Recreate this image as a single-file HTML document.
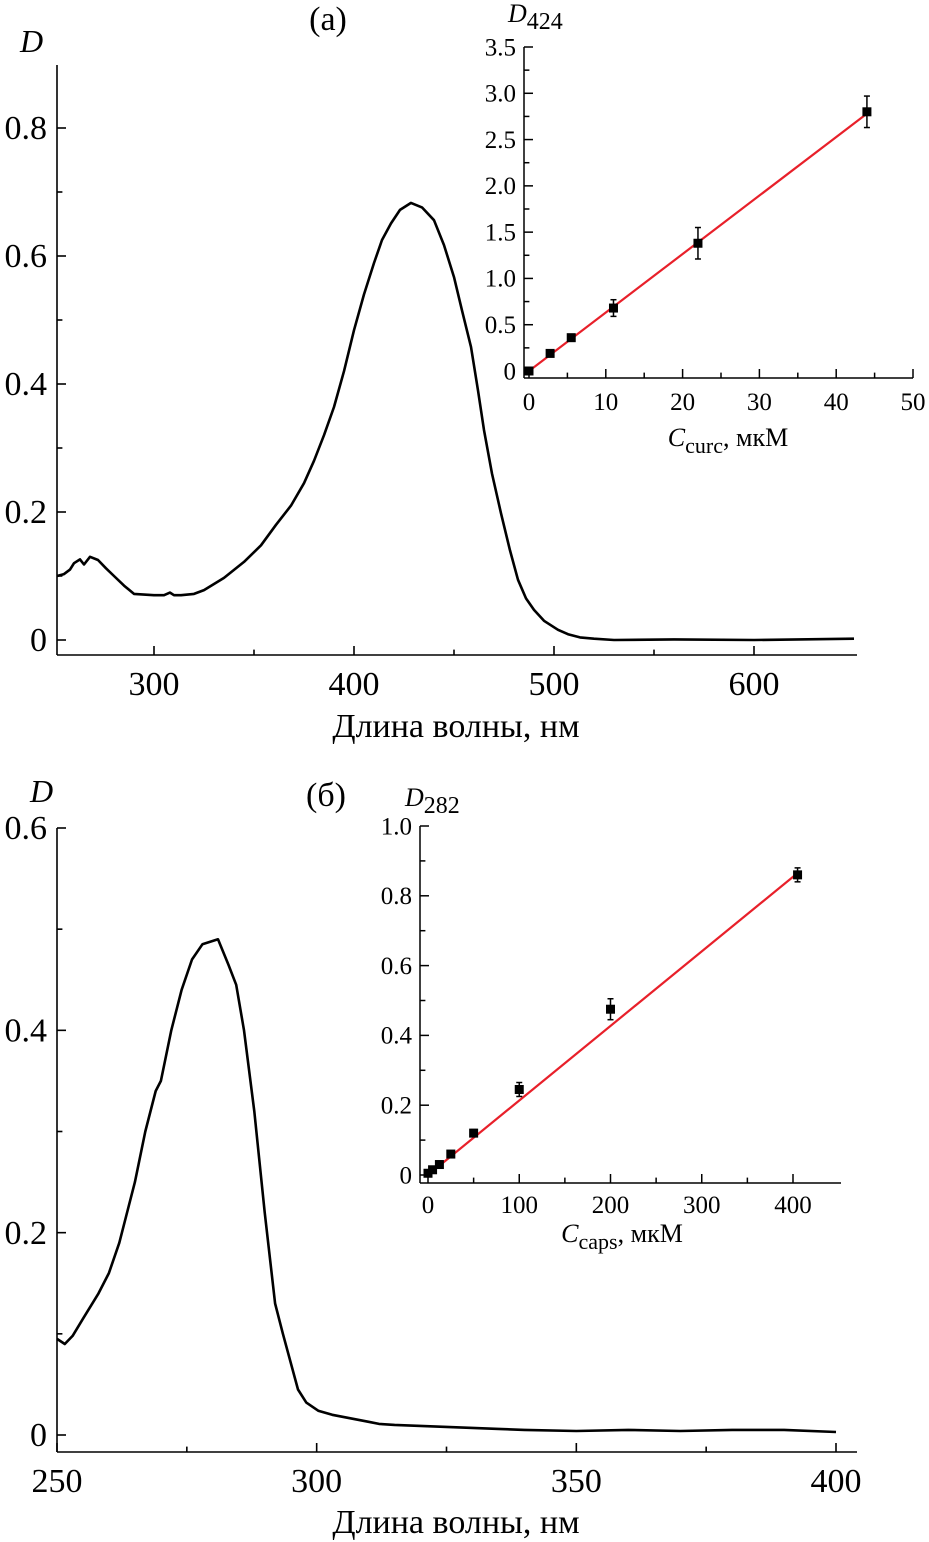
<!DOCTYPE html>
<html><head><meta charset="utf-8"><style>
html,body{margin:0;padding:0;background:#fff;}
svg{display:block;font-family:"Liberation Serif","DejaVu Serif",serif;}
</style></head><body>
<svg id="fig" width="929" height="1542" viewBox="0 0 929 1542"></svg>
<script>
// Panel (a) spectrum
const specAWl = [251.5,255,258,260,263,265,268,272,276,280,285,290,300,305,308,310,313.5,320,325,335,345,353.5,361,368.5,375,380,385,390,395,400,405,410,414,418.5,423,428.5,434,440,445,450,454,458.5,462,465,469,473.5,478,482,486,490,495,502,507,513,520,530,560,600,650];
const specAD  = [0.10,0.103,0.11,0.12,0.126,0.118,0.13,0.125,0.112,0.10,0.085,0.072,0.07,0.07,0.074,0.07,0.07,0.072,0.078,0.097,0.122,0.148,0.18,0.21,0.245,0.28,0.32,0.364,0.42,0.484,0.54,0.589,0.625,0.651,0.672,0.683,0.676,0.656,0.617,0.567,0.515,0.458,0.39,0.328,0.26,0.198,0.14,0.094,0.065,0.047,0.03,0.016,0.009,0.004,0.002,0.0,0.001,0.0,0.002];
const axAXTicks = [300,400,500,600];
const axAYTicks = [0,0.2,0.4,0.6,0.8];
// Inset (a)
const insAC = [0,2.75,5.5,11,22,44];
const insAD = [0,0.19,0.36,0.68,1.38,2.8];
const insAErr = [0.03,0.03,0.03,0.09,0.17,0.17];
const insAFit = [0,2.78]; // at C=0 and C=44
const insAXTicks = [0,10,20,30,40,50];
const insAYTicks = [0,0.5,1.0,1.5,2.0,2.5,3.0,3.5];
// Panel (b) spectrum
const specBWl = [250,251.5,253,255,258,260,262,265,267,269,270,272,274,276,278,281,283,284.5,286,288,290,292,293.5,296.4,298,300.3,303,305,308,310,312,315,320,325,330,335,340,350,360,370,380,390,400];
const specBD  = [0.095,0.09,0.098,0.115,0.14,0.16,0.19,0.25,0.30,0.34,0.35,0.40,0.44,0.47,0.485,0.49,0.465,0.445,0.40,0.32,0.22,0.13,0.10,0.045,0.032,0.024,0.02,0.018,0.015,0.013,0.011,0.01,0.009,0.008,0.007,0.006,0.005,0.004,0.005,0.004,0.005,0.005,0.003];
const axBXTicks = [250,300,350,400];
const axBYTicks = [0,0.2,0.4,0.6];
// Inset (b)
const insBC = [0,5,12.5,25,50,100,200,405];
const insBD = [0.005,0.015,0.03,0.06,0.12,0.245,0.475,0.86];
const insBErr = [0.006,0.006,0.006,0.008,0.01,0.02,0.03,0.02];
const insBFit = [0,0.865]; // at C=0 and C=405
const insBXTicks = [0,100,200,300,400];
const insBYTicks = [0,0.2,0.4,0.6,0.8,1.0];

const NS="http://www.w3.org/2000/svg";
const svg=document.getElementById('fig');
function mk(tag,attrs,parent,name,txt){
  const e=document.createElementNS(NS,tag);
  for(const k in attrs) e.setAttribute(k,attrs[k]);
  
  
  if(txt!==undefined) e.textContent=txt;
  (parent||svg).appendChild(e);
  return e;
}
function lin(d0,d1,r0,r1){return v=>r0+(v-d0)*(r1-r0)/(d1-d0);}
function fmt(v,dec){return v===0?'0':v.toFixed(dec);}

function axes(g,o){
  const X=o.X,Y=o.Y;
  mk('line',{x1:o.ax,y1:o.top,x2:o.ax,y2:o.bot,stroke:'#000','stroke-width':o.sw},g,'y-axis-line');
  mk('line',{x1:o.ax,y1:o.bot,x2:o.right,y2:o.bot,stroke:'#000','stroke-width':o.sw},g,'x-axis-line');
  o.xt.forEach(v=>{const x=X(v);
    mk('line',{x1:x,y1:o.bot,x2:x,y2:o.bot-o.tl,stroke:'#000','stroke-width':o.sw},g,'x-tick');
    mk('text',{x:x,y:o.bot+o.xlo,'font-size':o.fs,'text-anchor':'middle'},g,'x-tick-label',fmt(v,0));
  });
  o.xm.forEach(v=>{const x=X(v);
    mk('line',{x1:x,y1:o.bot,x2:x,y2:o.bot-o.tl*0.6,stroke:'#000','stroke-width':o.sw},g,'x-minor-tick');});
  o.yt.forEach(v=>{const y=Y(v);
    mk('line',{x1:o.ax,y1:y,x2:o.ax+o.tl,y2:y,stroke:'#000','stroke-width':o.sw},g,'y-tick');
    mk('text',{x:o.ax-o.ylo,y:y+o.fs*0.33,'font-size':o.fs,'text-anchor':'end'},g,'y-tick-label',fmt(v,o.dec));
  });
  o.ym.forEach(v=>{const y=Y(v);
    mk('line',{x1:o.ax,y1:y,x2:o.ax+o.tl*0.6,y2:y,stroke:'#000','stroke-width':o.sw},g,'y-minor-tick');});
}
function curve(g,wl,d,X,Y,name){
  let p=wl.map((w,i)=>(i?'L':'M')+X(w).toFixed(1)+','+Y(d[i]).toFixed(1)).join('');
  mk('path',{d:p,fill:'none',stroke:'#000','stroke-width':2.6,'stroke-linejoin':'round'},g,name);
}
function scatter(g,c,d,err,X,Y,fitC,fit,sz){
  mk('line',{x1:X(0),y1:Y(fit[0]),x2:X(fitC),y2:Y(fit[1]),stroke:'#e8202a','stroke-width':2.2},g,'fit-line');
  c.forEach((cv,i)=>{const x=X(cv),y=Y(d[i]);
    const y1=Y(d[i]+err[i]),y2=Y(d[i]-err[i]);
    mk('line',{x1:x,y1:y1,x2:x,y2:y2,stroke:'#000','stroke-width':1.5},g,'error-bar');
    mk('line',{x1:x-3,y1:y1,x2:x+3,y2:y1,stroke:'#000','stroke-width':1.5},g,'error-cap');
    mk('line',{x1:x-3,y1:y2,x2:x+3,y2:y2,stroke:'#000','stroke-width':1.5},g,'error-cap');
    mk('rect',{x:x-sz/2,y:y-sz/2,width:sz,height:sz,fill:'#000'},g,'data-point');
  });
}

// ---- Panel a ----
const gA=mk('g',{},svg,'panel-a');
const XA=lin(250,600,54,754), YA=lin(0,0.8,640,128);
axes(gA,{X:XA,Y:YA,ax:57,top:65,bot:655,right:857,sw:1.6,tl:9,fs:34,xlo:40,ylo:10,dec:1,
  xt:axAXTicks,xm:[350,450,550],yt:axAYTicks,ym:[0.1,0.3,0.5,0.7]});
curve(gA,specAWl,specAD,XA,YA,'spectrum-a');
mk('text',{x:20,y:52,'font-size':32,'font-style':'italic'},gA,'y-axis-title','D');
mk('text',{x:456,y:737,'font-size':34,'text-anchor':'middle'},gA,'x-axis-title','Длина волны, нм');
mk('text',{x:328,y:30,'font-size':34,'text-anchor':'middle'},gA,'panel-label-a','(a)');
// inset a
const giA=mk('g',{},svg,'inset-a');
const XIA=lin(0,50,529,913), YIA=lin(0,3.5,371,47);
axes(giA,{X:XIA,Y:YIA,ax:524,top:47,bot:378,right:913,sw:1.5,tl:9,fs:25,xlo:32,ylo:8,dec:1,
  xt:insAXTicks,xm:[5,15,25,35,45],yt:insAYTicks,ym:[0.25,0.75,1.25,1.75,2.25,2.75,3.25]});
scatter(giA,insAC,insAD,insAErr,XIA,YIA,44,insAFit,9);
const tA=mk('text',{x:508,y:22,'font-size':26},giA,'inset-y-title');
tA.innerHTML='<tspan font-style="italic">D</tspan><tspan font-size="24" dy="7">424</tspan>';
const tAx=mk('text',{x:728,y:446,'font-size':26,'text-anchor':'middle'},giA,'inset-x-title');
tAx.innerHTML='<tspan font-style="italic">C</tspan><tspan font-size="22" dy="7">curc</tspan><tspan dy="-7">, мкМ</tspan>';

// ---- Panel b ----
const gB=mk('g',{},svg,'panel-b');
const XB=lin(250,400,57,836), YB=lin(0,0.6,1435,828);
axes(gB,{X:XB,Y:YB,ax:57,top:828,bot:1452,right:857,sw:1.6,tl:9,fs:34,xlo:40,ylo:10,dec:1,
  xt:axBXTicks,xm:[275,325,375],yt:axBYTicks,ym:[0.1,0.3,0.5]});
curve(gB,specBWl,specBD,XB,YB,'spectrum-b');
mk('text',{x:30,y:802,'font-size':32,'font-style':'italic'},gB,'y-axis-title','D');
mk('text',{x:456,y:1533,'font-size':34,'text-anchor':'middle'},gB,'x-axis-title','Длина волны, нм');
mk('text',{x:326,y:806,'font-size':34,'text-anchor':'middle'},gB,'panel-label-b','(б)');
// inset b
const giB=mk('g',{},svg,'inset-b');
const XIB=lin(0,400,428,793), YIB=lin(0,1.0,1175,826);
axes(giB,{X:XIB,Y:YIB,ax:420,top:826,bot:1183,right:841,sw:1.5,tl:9,fs:25,xlo:30,ylo:8,dec:1,
  xt:insBXTicks,xm:[50,150,250,350],yt:insBYTicks,ym:[0.1,0.3,0.5,0.7,0.9]});
scatter(giB,insBC,insBD,insBErr,XIB,YIB,405,insBFit,9);
const tB=mk('text',{x:405,y:806,'font-size':26},giB,'inset-y-title');
tB.innerHTML='<tspan font-style="italic">D</tspan><tspan font-size="24" dy="7">282</tspan>';
const tBx=mk('text',{x:622,y:1242,'font-size':26,'text-anchor':'middle'},giB,'inset-x-title');
tBx.innerHTML='<tspan font-style="italic">C</tspan><tspan font-size="22" dy="7">caps</tspan><tspan dy="-7">, мкМ</tspan>';
</script>
</body></html>
